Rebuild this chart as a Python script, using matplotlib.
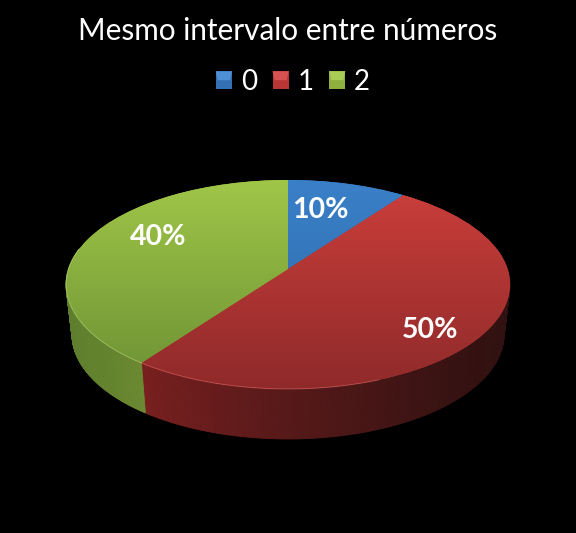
import numpy as np
import matplotlib
matplotlib.use('Agg')
import matplotlib.pyplot as plt
from matplotlib.collections import PolyCollection
from matplotlib.legend_handler import HandlerPatch
from matplotlib.patches import Polygon, Rectangle
from matplotlib.transforms import Transform

TITLE = 'Mesmo intervalo entre números'
CATEGORIES = ['0', '1', '2']
SHARES = [10, 50, 40]

TOP_COLOURS = [('#3a80c8', '#2c68a4'), ('#cc3f3b', '#8f2a2a'), ('#a0c648', '#6b9034')]
RIM_COLOURS = ['#6fa6dc', '#e8706c', '#bcd87c']
LEGEND_COLOURS = ['#3470b4', '#b83634', '#8db03e']
LEGEND_LIGHT = ['#4f8fd4', '#d65250', '#a8cc56']
# side wall colour by pixel x
WALL_X = [[0, 576], [140, 220, 300, 400, 510], [65, 145]]
WALL_RGB = [
    [(40, 80, 120), (40, 80, 120)],
    [(122, 32, 32), (102, 28, 28), (85, 25, 25), (66, 21, 21), (48, 17, 17)],
    [(94, 126, 46), (110, 140, 50)],
]
LABEL_POS = [(320, 210), (430, 330), (158, 237)]

CX, CY = 288, 269
RX, RY = 219.5, 102.2
K = 0.148
DEPTH = 50
SHRINK = 0.973


def project(x, y):
    w = 1 + K * y
    return CX + RX * x / w, CY - RY * y / w


class Perspective(Transform):
    input_dims = 2
    output_dims = 2

    def transform_non_affine(self, values):
        values = np.asarray(values)
        return np.column_stack(project(values[:, 0], values[:, 1]))


class BevelHandler(HandlerPatch):
    # square with a lighter trapezoid on top, like the 3D legend keys
    def create_artists(self, legend, orig_handle, xdescent, ydescent, width, height, fontsize, trans):
        x0, y0 = -xdescent, -ydescent
        light = LEGEND_LIGHT[LEGEND_COLOURS.index(orig_handle.get_label())]
        base = Rectangle((x0, y0), width, height, color=orig_handle.get_label(), transform=trans, linewidth=0)
        top = Polygon([(x0, y0 + height), (x0 + width, y0 + height), (x0 + width * 0.88, y0 + height * 0.5),
                       (x0 + width * 0.12, y0 + height * 0.5)], color=light, transform=trans, linewidth=0)
        return [base, top]


plt.rcParams['font.family'] = ['Lato', 'DejaVu Sans']
fig = plt.figure(figsize=(5.76, 5.33), dpi=100, facecolor='black')
ax = fig.add_axes([0, 0, 1, 1])

wedges, _, autotexts = ax.pie(SHARES, startangle=90, counterclock=False, colors=[c[0] for c in TOP_COLOURS],
                              autopct=lambda p: f'{p:.0f}%', wedgeprops={'zorder': 3})
ax.set_aspect('auto')
persp = Perspective()

# walls, rims and gradients for each slice
edges = 90 - 3.6 * np.concatenate([[0], np.cumsum(SHARES)])
for i, wedge in enumerate(wedges):
    wedge.set_transform(persp + ax.transData)
    wedge.set_linewidth(0)

    theta = np.radians(np.linspace(edges[i], edges[i + 1], int(abs(edges[i] - edges[i + 1])) * 2 + 2))
    x, y = project(np.cos(theta), np.sin(theta))
    xb = CX + (x - CX) * SHRINK
    yb = y + DEPTH
    front = np.sin(theta) < 0.2
    quads, cols = [], []
    for j in range(len(theta) - 1):
        if front[j] or front[j + 1]:
            quads.append([(x[j], y[j]), (x[j + 1], y[j + 1]), (xb[j + 1], yb[j + 1]), (xb[j], yb[j])])
            mid = (x[j] + x[j + 1]) / 2
            cols.append([np.interp(mid, WALL_X[i], [c[n] for c in WALL_RGB[i]]) / 255 for n in range(3)])
    if quads:
        ax.add_collection(PolyCollection(quads, facecolors=cols, edgecolors=cols, linewidths=0.6, zorder=2))

    grad = matplotlib.colors.LinearSegmentedColormap.from_list('g', TOP_COLOURS[i])
    im = ax.imshow(np.linspace(0, 1, 200)[:, None], cmap=grad, extent=(60, 516, 389, 180), aspect='auto', zorder=4)
    im.set_clip_path(wedge)

    # highlight fades out towards the right of the front edge
    lit = front & (x < 380)
    if lit.any():
        ax.plot(x[lit], y[lit], color=RIM_COLOURS[i], linewidth=0.7, alpha=0.5, zorder=5)

ax.set_xlim(0, 576)
ax.set_ylim(533, 0)

for text, pos in zip(autotexts, LABEL_POS):
    text.set_position(pos)
    text.set(color='white', fontsize=20.5, fontweight='bold', ha='center', va='center', zorder=6)

ax.text(288, 31, TITLE, color='white', fontsize=21.4, ha='center', va='center')

handles = [Rectangle((0, 0), 1, 1, label=c) for c in LEGEND_COLOURS]
ax.legend(handles, CATEGORIES, ncols=3, loc='center', bbox_to_anchor=(293, 82), bbox_transform=ax.transData,
          frameon=False, fontsize=20, labelcolor='white', handlelength=0.58, handleheight=0.6,
          handletextpad=0.32, columnspacing=0.56, borderpad=0, borderaxespad=0,
          handler_map={Rectangle: BevelHandler()})

fig.savefig('out.png', dpi=100, facecolor='black')
